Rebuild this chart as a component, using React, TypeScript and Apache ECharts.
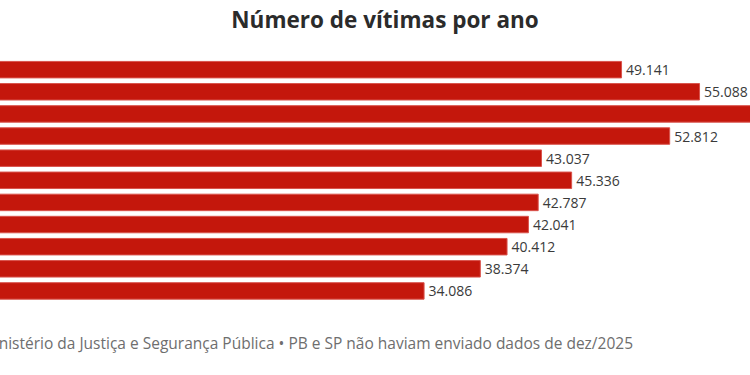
import React, { useEffect, useRef } from "react";
import * as echarts from "echarts";

const years = ["2015", "2016", "2017", "2018", "2019", "2020", "2021", "2022", "2023", "2024", "2025"];
const victims = [49141, 55088, 60200, 52812, 43037, 45336, 42787, 42041, 40412, 38374, 34086];
const titleText = "Número de vítimas por ano";
const sourceText = "Fonte: Ministério da Justiça e Segurança Pública • PB e SP não haviam enviado dados de dez/2025";

const fmt = (v: number) => {
  const s = Math.round(v).toString();
  return s.replace(/\B(?=(\d{3})+(?!\d))/g, ".");
};

const OFFSET = 100; // chart canvas starts 100px left of the visible page

export default function App() {
  const ref = useRef<HTMLDivElement>(null);
  useEffect(() => {
    if (!ref.current) return;
    const chart = echarts.init(ref.current, null, { renderer: "svg" });
    const xMax = 62000;
    const pxPerUnit = 0.013116;
    const zeroX = -22.5 + OFFSET;
    const gridWidth = xMax * pxPerUnit;
    chart.setOption({
      animation: false,
      backgroundColor: "#ffffff",
      textStyle: { fontFamily: "Open Sans" },
      graphic: [
        {
          type: "text",
          x: 385 + OFFSET,
          y: 8,
          style: {
            text: titleText,
            font: "bold 22.5px 'Open Sans'",
            fill: "#2b2b2b",
            align: "center",
            verticalAlign: "top",
          },
        },
        {
          type: "text",
          x: 633 + OFFSET,
          y: 343,
          style: {
            text: sourceText,
            font: "15.5px 'Open Sans'",
            fill: "#6e6e6e",
            align: "right",
            verticalAlign: "middle",
          },
        },
      ],
      grid: {
        left: zeroX,
        top: 58.6,
        width: gridWidth,
        height: 243.4,
        containLabel: false,
      },
      xAxis: {
        type: "value",
        min: 0,
        max: xMax,
        show: false,
      },
      yAxis: {
        type: "category",
        data: years,
        inverse: true,
        axisLine: { show: false },
        axisTick: { show: false },
        axisLabel: { show: false },
      },
      series: [
        {
          type: "bar",
          data: victims,
          barCategoryGap: "21%",
          itemStyle: {
            color: "#c4170c",
            borderColor: "#d9534c",
            borderWidth: 1,
          },
          label: {
            show: true,
            position: "right",
            distance: 4,
            color: "#3a3a3a",
            fontSize: 14,
            fontFamily: "Open Sans",
            formatter: (p: any) => fmt(p.value),
          },
        },
      ],
    });
    return () => chart.dispose();
  }, []);
  return (
    <div
      style={{ position: "fixed", left: 0, top: 0, width: 750, height: 375, overflow: "hidden", background: "#fff" }}
    >
      <div
        ref={ref}
        style={{ position: "absolute", left: -OFFSET, top: 0, width: 950, height: 375 }}
      />
    </div>
  );
}
